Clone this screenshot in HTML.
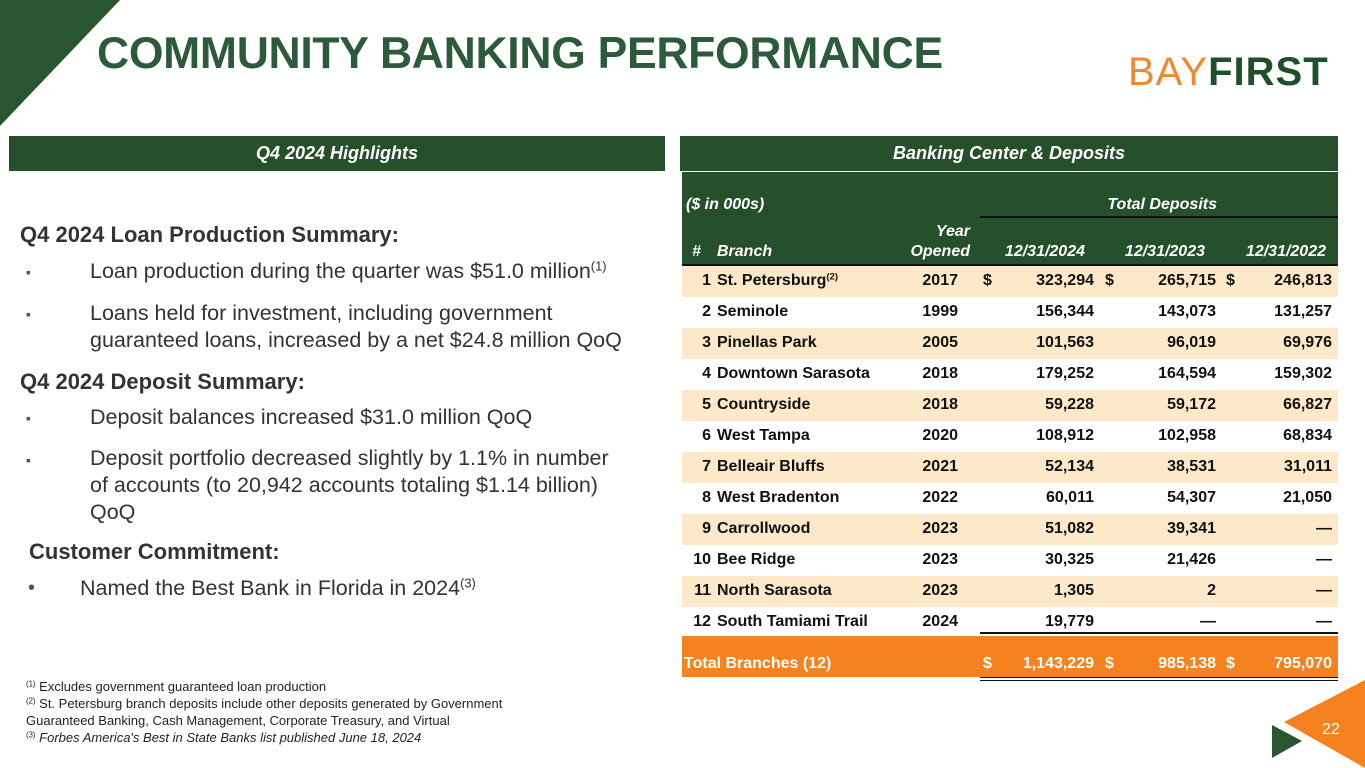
<!DOCTYPE html>
<html><head><meta charset="utf-8">
<style>
body{margin:0;width:1365px;height:768px;position:relative;overflow:hidden;background:#fff;font-family:"Liberation Sans",sans-serif;}
.abs{position:absolute;}
.bar{background:#264f2b;color:#fff;font-style:italic;font-weight:bold;font-size:18px;text-align:center;line-height:35px;}
.lt{font-size:21.5px;color:#333;}
.bh{font-weight:bold;color:#333;font-size:22px;}
.bul{font-size:14px;color:#555;}
.cell{position:absolute;font-weight:bold;font-size:16px;white-space:nowrap;line-height:20px;}
.r{text-align:right;}
.fn{font-size:13px;color:#222;line-height:17px;}
sup{font-size:0.6em;line-height:0;vertical-align:0.6em;}
</style></head><body>
<svg class="abs" style="left:0;top:0" width="130" height="130"><polygon points="0,0 120,0 0,126" fill="#2a5533"/></svg>
<div class="abs" style="left:97px;top:29px;font-size:44.5px;font-weight:bold;color:#2d5a3a;letter-spacing:-0.3px;">COMMUNITY BANKING PERFORMANCE</div>
<div class="abs" style="left:1128px;top:50px;font-size:40px;letter-spacing:1px;line-height:44px;"><span style="color:#f0892a;font-weight:normal;">BAY</span><span style="color:#1e5128;font-weight:bold;">FIRST</span></div>

<div class="abs bar" style="left:9px;top:136px;width:656px;height:35px;">Q4 2024 Highlights</div>
<div class="abs bar" style="left:680px;top:136px;width:658px;height:35px;">Banking Center &amp; Deposits</div>

<div class="abs" style="left:0;top:0;">
<div class="abs bh" style="left:20px;top:222px;white-space:nowrap;">Q4 2024 Loan Production Summary:</div>
<div class="abs bul" style="left:26px;top:264px;">▪</div>
<div class="abs lt" style="left:90px;top:259px;white-space:nowrap;">Loan production during the quarter was $51.0 million<sup>(1)</sup></div>
<div class="abs bul" style="left:26px;top:306px;">▪</div>
<div class="abs lt" style="left:90px;top:300px;white-space:nowrap;line-height:27px;">Loans held for investment, including government<br>guaranteed loans, increased by a net $24.8 million QoQ</div>
<div class="abs bh" style="left:20px;top:369px;white-space:nowrap;">Q4 2024 Deposit Summary:</div>
<div class="abs bul" style="left:26px;top:410px;">▪</div>
<div class="abs lt" style="left:90px;top:405px;white-space:nowrap;">Deposit balances increased $31.0 million QoQ</div>
<div class="abs bul" style="left:26px;top:452px;">▪</div>
<div class="abs lt" style="left:90px;top:445px;white-space:nowrap;line-height:27px;">Deposit portfolio decreased slightly by 1.1% in number<br>of accounts (to 20,942 accounts totaling $1.14 billion)<br>QoQ</div>
<div class="abs bh" style="left:29px;top:539px;white-space:nowrap;">Customer Commitment:</div>
<div class="abs" style="left:28px;top:577px;font-size:20px;color:#555;">•</div>
<div class="abs lt" style="left:80px;top:576px;white-space:nowrap;">Named the Best Bank in Florida in 2024<sup>(3)</sup></div>
</div>

<div class="abs fn" style="left:26px;top:678px;width:540px;">
<sup>(1)</sup> Excludes government guaranteed loan production<br>
<sup>(2)</sup> St. Petersburg branch deposits include other deposits generated by Government Guaranteed Banking, Cash Management, Corporate Treasury, and Virtual<br>
<sup>(3)</sup> <i>Forbes America's Best in State Banks list published June 18, 2024</i>
</div>

<div class="abs" id="tbl" style="left:0;top:0;">
<div class="abs" style="left:682px;top:172px;width:656px;height:94px;background:#264f2b;"></div>
<div class="abs" style="left:980px;top:216px;width:358px;height:2px;background:#111;"></div>
<div class="abs" style="left:682px;top:264px;width:656px;height:2px;background:#111;"></div>
</div>

<svg class="abs" style="left:1270px;top:680px" width="95" height="88"><polygon points="95,0 95,88 14,42" fill="#f5821f"/><polygon points="2,45 2,78 32,61" fill="#2a5533"/><text x="52" y="54" fill="#fff" font-size="16" font-family="Liberation Sans">22</text></svg>

<script>
const branches=["St. Petersburg","Seminole","Pinellas Park","Downtown Sarasota","Countryside","West Tampa","Belleair Bluffs","West Bradenton","Carrollwood","Bee Ridge","North Sarasota","South Tamiami Trail"];
const years=["2017","1999","2005","2018","2018","2020","2021","2022","2023","2023","2023","2024"];
const dep2024=["323,294","156,344","101,563","179,252","59,228","108,912","52,134","60,011","51,082","30,325","1,305","19,779"];
const dep2023=["265,715","143,073","96,019","164,594","59,172","102,958","38,531","54,307","39,341","21,426","2","—"];
const dep2022=["246,813","131,257","69,976","159,302","66,827","68,834","31,011","21,050","—","—","—","—"];
const totals=["1,143,229","985,138","795,070"];
const T=document.getElementById('tbl');
function cell(txt,x,y,w,right,color,extra){
  const d=document.createElement('div');
  d.className='cell'+(right?' r':'');
  d.style.left=x+'px';d.style.top=y+'px';
  if(w)d.style.width=w+'px';
  d.style.color=color||'#111';
  if(extra)d.style.cssText+=extra;
  d.innerHTML=txt;
  
  
  T.appendChild(d);return d;
}
const hs='font-style:italic;';
cell('($ in 000s)',686,195,0,false,'#fff',hs);
cell('Total Deposits',1000,195,217,true,'#fff',hs);
cell('#',692,242,0,false,'#fff',hs);
cell('Branch',717,242,0,false,'#fff',hs);
cell('Year<br>Opened',890,222,80,true,'#fff',hs);
cell('12/31/2024',990,242,95,true,'#fff',hs);
cell('12/31/2023',1110,242,95,true,'#fff',hs);
cell('12/31/2022',1230,242,96,true,'#fff',hs);
for(let i=0;i<branches.length;i++){
  const top=266+i*31;
  if(i%2===0){
    const bg=document.createElement('div');
    bg.className='abs';bg.style.cssText=`left:682px;top:${top}px;width:656px;height:31px;background:#fde9c9;`;
    
    
    T.insertBefore(bg,T.firstChild);
  }
  const y=top+5;
  cell(String(i+1),680,y,31,true);
  cell(branches[i]+(i===0?'<sup>(2)</sup>':''),717,y);
  cell(years[i],900,y,58,true);
  if(i===0){cell('$',983,y);cell('$',1105,y);cell('$',1226,y);}
  cell(dep2024[i],1000,y,94,true);
  cell(dep2023[i],1120,y,96,true);
  cell(dep2022[i],1240,y,92,true);
}
const tb=document.createElement('div');
tb.className='abs';tb.style.cssText='left:682px;top:636px;width:656px;height:41px;background:#f5821f;';


T.appendChild(tb);
const ln=document.createElement('div');ln.className='abs';ln.style.cssText='left:980px;top:632px;width:358px;height:2px;background:#111;';


T.appendChild(ln);
const ln2=document.createElement('div');ln2.className='abs';ln2.style.cssText='left:980px;top:677px;width:358px;height:4px;border-top:1.5px solid #111;border-bottom:1.5px solid #111;box-sizing:border-box;';


T.appendChild(ln2);
const ty=654;
cell('Total Branches (12)',684,ty,0,false,'#fff');
cell('$',983,ty,0,false,'#fff');cell('$',1105,ty,0,false,'#fff');cell('$',1226,ty,0,false,'#fff');
cell(totals[0],1000,ty,94,true,'#fff');
cell(totals[1],1120,ty,96,true,'#fff');
cell(totals[2],1240,ty,92,true,'#fff');
</script>
</body></html>
